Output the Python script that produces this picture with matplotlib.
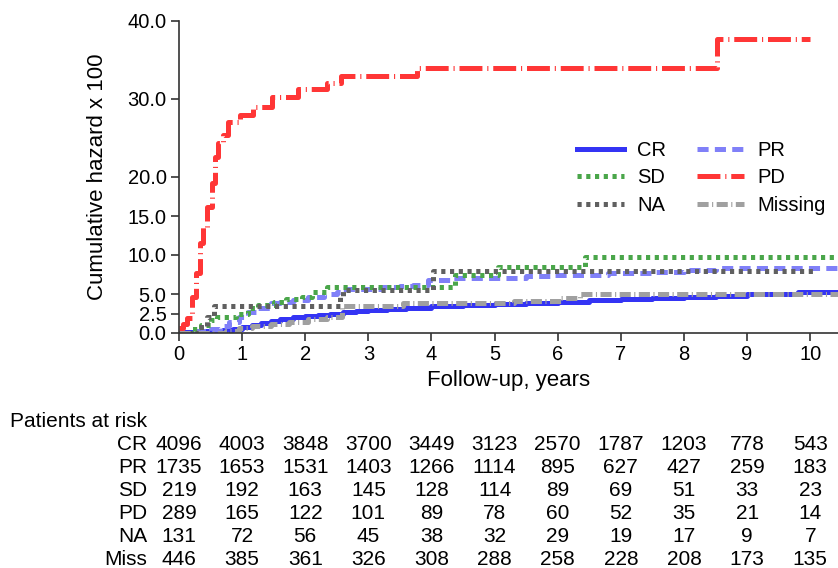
import matplotlib
matplotlib.use("Agg")
import matplotlib.pyplot as plt
import matplotlib.transforms as mtrans

plt.rcParams['font.family'] = ['Liberation Sans', 'DejaVu Sans']
plt.rcParams['lines.scale_dashes'] = False

# step-curve data (years, cumulative hazard x 100)
cr_t = [0, 0.1, 0.3, 0.5, 0.7, 0.85, 1.0, 1.15, 1.3, 1.45, 1.6, 1.8, 2.0, 2.2, 2.4, 2.6, 2.8, 3.0,
        3.3, 3.6, 4.0, 4.5, 5.0, 5.5, 6.0, 6.5, 7.0, 7.5, 8.0, 8.5, 9.0, 9.5, 9.8, 10.44]
cr_v = [0, 0.1, 0.2, 0.25, 0.35, 0.55, 0.8, 1.05, 1.3, 1.55, 1.75, 2.0, 2.2, 2.35, 2.5, 2.7, 2.85, 2.95,
        3.1, 3.25, 3.4, 3.55, 3.7, 3.85, 4.0, 4.2, 4.35, 4.5, 4.65, 4.8, 4.95, 5.05, 5.2, 5.2]

pr_t = [0, 0.3, 0.5, 0.65, 0.8, 0.95, 1.1, 1.25, 1.45, 1.6, 1.8, 2.05, 2.3, 2.5, 2.6, 3.2, 3.5, 3.7,
        3.95, 4.3, 4.8, 5.5, 5.9, 6.5, 6.8, 7.2, 7.5, 8.0, 8.5, 10.44]
pr_v = [0, 0.2, 0.5, 0.9, 1.4, 2.0, 2.7, 3.2, 3.8, 4.0, 4.2, 4.6, 5.0, 5.3, 5.7, 5.9, 6.05, 6.2,
        6.8, 7.0, 7.1, 7.25, 7.4, 7.5, 7.65, 7.75, 7.85, 8.1, 8.3, 8.3]

sd_t = [0, 0.2, 0.35, 0.5, 0.6, 0.9, 1.1, 1.25, 1.5, 1.7, 1.95, 2.1, 2.35, 4.38, 5.05, 6.43, 10.44]
sd_v = [0, 0.5, 1.0, 1.7, 2.1, 2.5, 3.2, 3.6, 4.0, 4.3, 4.65, 5.2, 5.9, 7.5, 8.5, 9.8, 9.8]

pd_t = [0, 0.07, 0.13, 0.2, 0.27, 0.33, 0.38, 0.44, 0.52, 0.57, 0.62, 0.7, 0.78, 0.97, 1.17, 1.47,
        1.89, 2.35, 2.57, 3.77, 8.53, 10.0]
pd_v = [0.6, 1.2, 1.9, 4.6, 7.7, 11.5, 13.6, 16.2, 19.2, 22.6, 24.4, 25.4, 27.1, 28.0, 29.0, 30.3,
        31.3, 32.1, 32.9, 34.0, 37.7, 37.7]

na_t = [0, 0.3, 0.45, 0.55, 2.55, 2.6, 4.03, 10.1]
na_v = [0, 0.8, 2.1, 3.5, 4.6, 5.5, 8.0, 8.0]

miss_t = [0, 0.75, 0.95, 1.15, 1.45, 1.75, 2.05, 2.35, 2.58, 3.55, 5.3, 6.05, 6.35, 10.44]
miss_v = [0, 0.3, 0.6, 0.85, 1.15, 1.45, 1.85, 2.1, 3.4, 3.8, 4.05, 4.45, 4.95, 4.95]

# patients at risk table
risk_times = [0, 1, 2, 3, 4, 5, 6, 7, 8, 9, 10]
risk_labels = ["CR", "PR", "SD", "PD", "NA", "Miss"]
risk_cr = [4096, 4003, 3848, 3700, 3449, 3123, 2570, 1787, 1203, 778, 543]
risk_pr = [1735, 1653, 1531, 1403, 1266, 1114, 895, 627, 427, 259, 183]
risk_sd = [219, 192, 163, 145, 128, 114, 89, 69, 51, 33, 23]
risk_pd = [289, 165, 122, 101, 89, 78, 60, 52, 35, 21, 14]
risk_na = [131, 72, 56, 45, 38, 32, 29, 19, 17, 9, 7]
risk_miss = [446, 385, 361, 326, 308, 288, 258, 228, 208, 173, 135]

yticks = [0, 2.5, 5, 10, 15, 20, 30, 40]

W, H = 838, 568
fig = plt.figure(figsize=(W / 100, H / 100), dpi=100)
ax = fig.add_axes([179 / W, 1 - 333 / H, 1 - 179 / W, (333 - 21) / H])

lw = 3.6
l_cr, = ax.plot(cr_t, cr_v, drawstyle='steps-post', color='#3434f4', lw=lw, label='CR')
l_pr, = ax.plot(pr_t, pr_v, drawstyle='steps-post', color='#8080f8', lw=lw, ls=(0, (8, 4.5)),
                dash_capstyle='butt', label='PR')
l_sd, = ax.plot(sd_t, sd_v, drawstyle='steps-post', color='#4aa64a', lw=lw, ls=(0, (3, 3.3)),
                dash_capstyle='butt', label='SD')
l_pd, = ax.plot(pd_t, pd_v, drawstyle='steps-post', color='#ff3636', lw=lw,
                ls=(0, (16.5, 3.5, 0.8, 3.5)), dash_capstyle='butt', label='PD')
l_na, = ax.plot(na_t, na_v, drawstyle='steps-post', color='#606060', lw=lw, ls=(0, (3, 3.3)),
                dash_capstyle='butt', label='NA')
l_mi, = ax.plot(miss_t, miss_v, drawstyle='steps-post', color='#a0a0a0', lw=lw,
                ls=(0, (8, 2.5, 0.8, 2.5)), dash_capstyle='butt', label='Missing')

ax.set_xlim(0, 10.44)
ax.set_ylim(0, 40)
ax.set_xticks(risk_times)
ax.set_yticks(yticks)
ax.set_yticklabels(["%.1f" % v for v in yticks])
for s in ['top', 'right']:
    ax.spines[s].set_visible(False)
for s in ['left', 'bottom']:
    ax.spines[s].set_color('#333333')
    ax.spines[s].set_linewidth(1.2)
ax.tick_params(direction='out', length=6, width=1.2, color='#333333', labelsize=14.5, pad=3)
ax.set_xlabel("Follow-up, years", fontsize=16, labelpad=4)
ax.set_ylabel("Cumulative hazard x 100", fontsize=16, labelpad=14)

# legend filled row by row: CR PR / SD PD / NA Missing
handles = [l_cr, l_sd, l_na, l_pr, l_pd, l_mi]
ax.legend(handles, [h.get_label() for h in handles], ncol=2, frameon=False, fontsize=14.5,
          loc='center left', bbox_to_anchor=(577 / W, 1 - 178 / H), bbox_transform=fig.transFigure,
          borderpad=0, borderaxespad=0, handlelength=2.35, handletextpad=0.65,
          columnspacing=1.5, labelspacing=0.42)

# risk table
fig.text(10 / W, 1 - 427 / H, "Patients at risk", fontsize=15, va='baseline', ha='left')
tr = mtrans.blended_transform_factory(ax.transData, fig.transFigure)
rows = [risk_cr, risk_pr, risk_sd, risk_pd, risk_na, risk_miss]
baselines = [450, 473, 496, 519, 542, 565]
for lab, row, yb in zip(risk_labels, rows, baselines):
    fig.text(147 / W, 1 - yb / H, lab, fontsize=15, va='baseline', ha='right')
    for t, n in zip(risk_times, row):
        ax.text(t, 1 - yb / H, str(n), transform=tr, fontsize=15, va='baseline', ha='center',
                clip_on=False)

fig.savefig("out.png", dpi=100)
